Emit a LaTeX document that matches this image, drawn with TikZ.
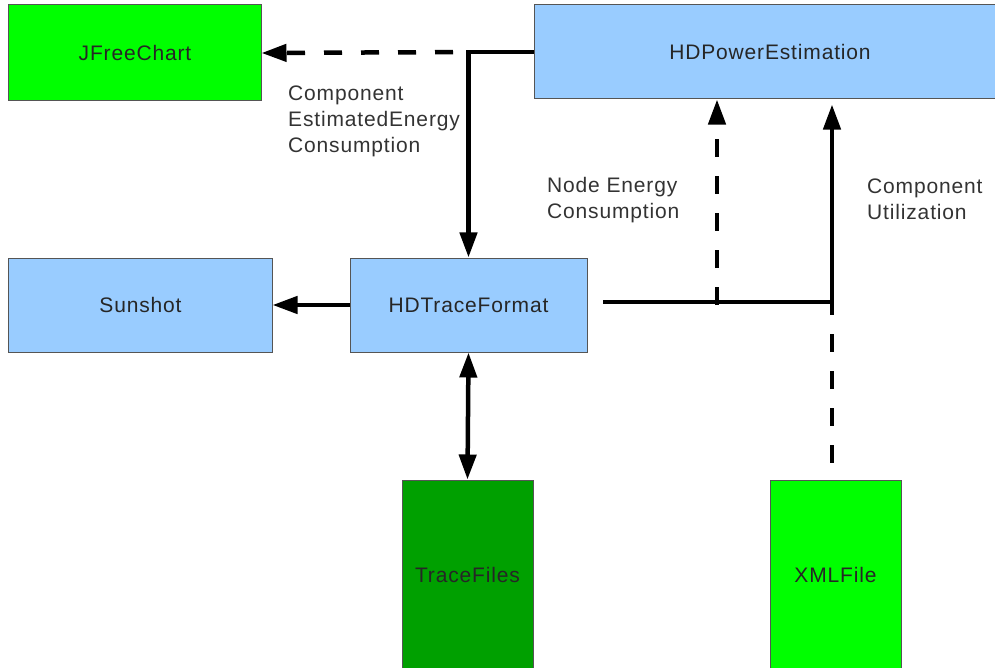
\documentclass[tikz,border=0pt]{standalone}
\usepackage{fontspec}
\setmainfont{Liberation Sans}[LetterSpace=4]
\usetikzlibrary{arrows.meta}
\definecolor{boxblue}{HTML}{99CCFF}
\definecolor{boxgreen}{HTML}{00FF00}
\definecolor{boxdark}{HTML}{00A000}
\definecolor{edgegray}{HTML}{555555}
\tikzset{
  >={Triangle[length=25bp,width=17bp]},
  block/.style={draw=edgegray, line width=1bp, inner sep=0pt, text=black!85, font=\fontsize{21bp}{26bp}\selectfont},
  lbl/.style={anchor=west, align=left, inner sep=0pt, text=black!80, font=\fontsize{21bp}{26bp}\selectfont},
  link/.style={line width=4.5bp, ->},
  dashlink/.style={link, dash pattern=on 18bp off 19bp},
}
\begin{document}
\begin{tikzpicture}[x=1bp, y=-1bp]
        \useasboundingbox (0,0) rectangle (995,668);
        \clip (0,0) rectangle (995,668);
        \node[block, fill=boxgreen, minimum width=252bp, minimum height=96bp] (jfree) at (135,53) {JFreeChart};
        \node[block, fill=boxblue, minimum width=472bp, minimum height=94bp] (power) at (770,52) {HDPowerEstimation};
        \node[block, fill=boxblue, minimum width=263bp, minimum height=94bp] (sunshot) at (140.5,305) {Sunshot};
        \node[block, fill=boxblue, minimum width=237bp, minimum height=94bp] (trace) at (468.5,305) {HDTraceFormat};
        \node[block, fill=boxdark, minimum width=131bp, minimum height=190bp] (files) at (467.5,575) {TraceFiles};
        \node[block, fill=boxgreen, minimum width=131bp, minimum height=190bp] (xml) at (835.5,575) {XMLFile};
        \coordinate (corner) at (trace.north |- power.west);
        \coordinate (busL) at (603,302);
        \coordinate (busN) at (717,302);
        \coordinate (busR) at (832,302);
        \draw[link] (power.west) -- (corner) -- (trace.north);
        \draw[dashlink, dash phase=21.5bp] (corner) -- (jfree.east);
        \draw[link] (trace.west) -- (sunshot.east);
        \draw[link, <->] (trace.south) -- (files.north);
        \draw[line width=4.5bp] (busL) -- (busR);
        \draw[dashlink] ([yshift=-3bp]busN) -- (busN |- power.south);
        \draw[link, shorten >=5bp] ([yshift=-2bp]busR) -- (busR |- power.south);
        \draw[line width=4.5bp, dash pattern=on 18bp off 19bp] ([yshift=5bp]busR) -- (busR |- xml.north);
        \node[lbl] (estlbl) at (288,121) {Component\\EstimatedEnergy\\Consumption};
        \node[lbl] (nodelbl) at (547,200.5) {Node Energy\\Consumption};
        \node[lbl] (utillbl) at (867,199.5) {Component\\Utilization};
\end{tikzpicture}
\end{document}
